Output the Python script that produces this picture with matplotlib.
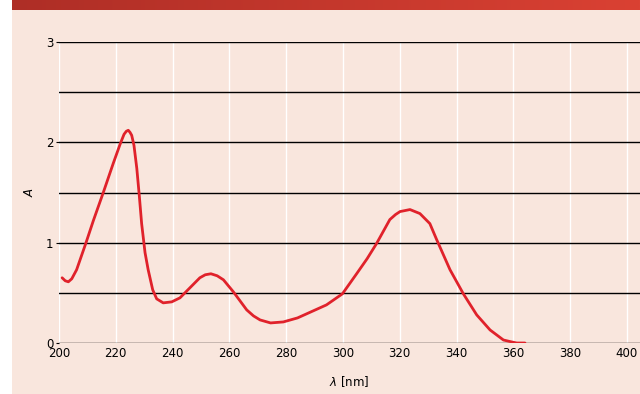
import numpy as np
import matplotlib
matplotlib.use("Agg")
import matplotlib.pyplot as plt
from matplotlib.patches import Rectangle

# absorption spectrum
wavelength = [201.1, 202.2, 203.3, 204.5, 206.2, 207.8, 209.4, 212.1, 215.6, 219.1,
              221.5, 222.9, 223.7, 224.4, 225.0, 225.6, 226.4, 227.4, 228.3, 229.1,
              230.3, 231.4, 233.0, 234.4, 236.7, 239.7, 242.6, 246.1, 249.6, 251.5,
              253.5, 255.7, 257.9, 261.4, 266.1, 268.5, 270.8, 274.5, 279.0, 284.0,
              289.5, 294.2, 299.8, 304.8, 308.5, 311.8, 316.5, 318.5, 320.1, 323.6,
              327.1, 330.6, 333.0, 337.7, 342.4, 347.1, 351.8, 356.5, 359.5, 361.2,
              364.1]
absorbance = [0.65, 0.62, 0.61, 0.64, 0.73, 0.86, 0.99, 1.22, 1.50, 1.79,
              1.98, 2.08, 2.11, 2.12, 2.10, 2.07, 1.97, 1.74, 1.46, 1.19,
              0.90, 0.73, 0.53, 0.44, 0.40, 0.41, 0.45, 0.55, 0.65, 0.68,
              0.69, 0.67, 0.63, 0.51, 0.33, 0.27, 0.23, 0.20, 0.21, 0.25,
              0.32, 0.38, 0.49, 0.69, 0.84, 0.99, 1.23, 1.28, 1.31, 1.33,
              1.29, 1.19, 1.03, 0.73, 0.49, 0.28, 0.13, 0.03, 0.01, 0.0,
              0.0]

xticks = [200, 220, 240, 260, 280, 300, 320, 340, 360, 380, 400]
yticks = [0, 1, 2, 3]
hlines = [0, 0.5, 1, 1.5, 2, 2.5, 3]

bg = "#F9E6DD"
font = "Liberation Sans Narrow"

fig = plt.figure(figsize=(6.4, 3.94), dpi=100)
fig.patch.set_facecolor("white")

# pink panel and red banner
fig.patches.append(Rectangle((12 / 640, 0), 1, 384 / 394, transform=fig.transFigure,
                             facecolor=bg, edgecolor="none", zorder=-10))
banner = np.linspace(0, 1, 256).reshape(1, -1)
bax = fig.add_axes([12 / 640, 384 / 394, 628 / 640, 10 / 394])
bax.imshow(banner, aspect="auto", extent=(0, 1, 0, 1),
           cmap=matplotlib.colors.LinearSegmentedColormap.from_list("b", ["#AE2E26", "#DA4133"]))
bax.axis("off")

ax = fig.add_axes([59 / 640, 51 / 394, 581 / 640, 301 / 394])
ax.set_facecolor(bg)
ax.set_xlim(200, 404.6)
ax.set_ylim(0, 3)

for x in xticks:
    ax.axvline(x, color="white", lw=1.0, zorder=1)
for y in hlines:
    ax.axhline(y, color="black", lw=1.0, zorder=2)

ax.plot(wavelength, absorbance, color="#E0222B", lw=2.0, zorder=3,
        solid_capstyle="round", solid_joinstyle="round")

for s in ax.spines.values():
    s.set_visible(False)
ax.set_xticks(xticks)
ax.set_xticklabels([str(v) for v in xticks], fontfamily=font, fontsize=8.5)
ax.set_yticks(yticks)
ax.set_yticklabels([str(v) for v in yticks], fontfamily=font, fontsize=8.5)
ax.tick_params(axis="x", length=0, pad=3)
ax.tick_params(axis="y", length=2, width=0.8, pad=2)

ax.set_xlabel(r"$\lambda$ [nm]", fontfamily=font, fontsize=8.5, labelpad=10)
ax.set_ylabel(r"$A$", fontsize=8.5, labelpad=7)

fig.savefig("out.png", dpi=100, facecolor=fig.get_facecolor())
